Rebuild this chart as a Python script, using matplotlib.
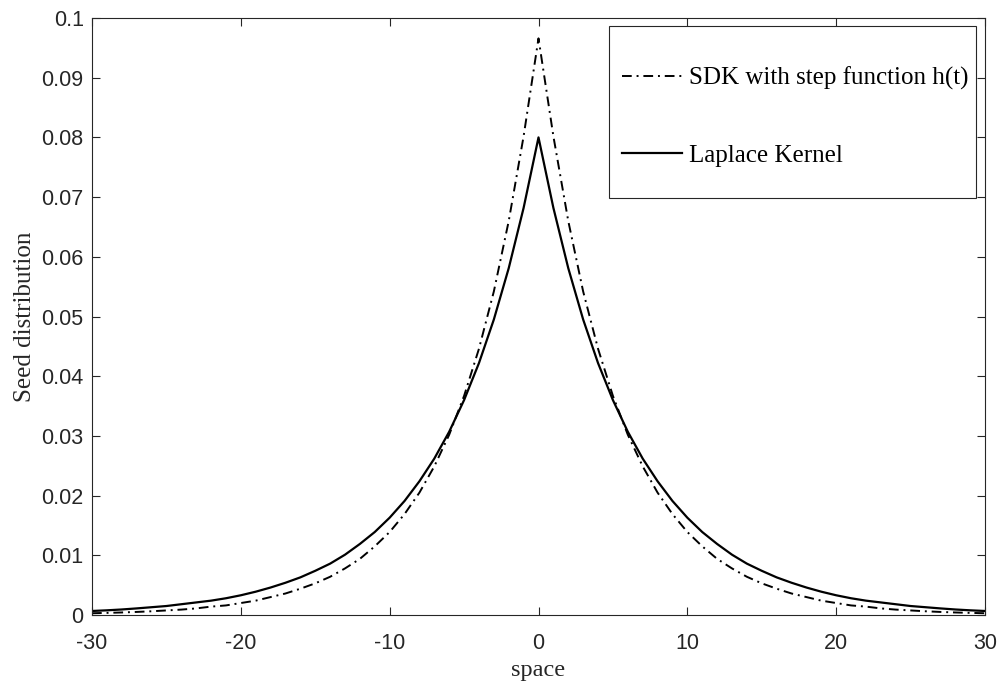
import matplotlib
matplotlib.use("Agg")
import matplotlib.pyplot as plt
from matplotlib.patches import Rectangle
from matplotlib.ticker import FuncFormatter

# distance from the parent plant (right half; the kernels are symmetric)
space_half = [0, 1, 2, 3, 4, 5, 6, 7, 8, 9, 10, 11, 12, 13, 14, 15,
              16, 17, 18, 19, 20, 21, 22, 23, 24, 25, 26, 27, 28, 29, 30]

# SDK with a step-function release rate h(t)
sdk_half = [0.0966, 0.0802, 0.0660, 0.0542, 0.0446, 0.0367, 0.0302, 0.0249,
            0.0205, 0.0169, 0.0139, 0.0115, 0.0094, 0.0078, 0.0064, 0.0053,
            0.0044, 0.0036, 0.0030, 0.0024, 0.0020, 0.0016, 0.0014, 0.0011,
            0.0009, 0.00076, 0.00062, 0.00051, 0.00042, 0.00035, 0.00029]

# Laplace dispersal kernel
laplace_half = [0.0800, 0.0682, 0.0581, 0.0495, 0.0422, 0.0360, 0.0307, 0.0262,
                0.0224, 0.0191, 0.0163, 0.0139, 0.0119, 0.0101, 0.0086, 0.0074,
                0.0063, 0.0054, 0.0046, 0.0039, 0.0033, 0.0028, 0.0024, 0.0021,
                0.0018, 0.0015, 0.0013, 0.0011, 0.00092, 0.00078, 0.00067]

x_ticks = [-30, -20, -10, 0, 10, 20, 30]
y_ticks = [0, 0.01, 0.02, 0.03, 0.04, 0.05, 0.06, 0.07, 0.08, 0.09, 0.1]

# mirror the half profiles onto the full domain
space = [-v for v in space_half[:0:-1]] + space_half
sdk = sdk_half[:0:-1] + sdk_half
laplace = laplace_half[:0:-1] + laplace_half

plt.rcParams["axes.unicode_minus"] = False

axis_gray = "#262626"
serif = ["Liberation Serif", "DejaVu Serif"]
sans = ["Liberation Sans", "DejaVu Sans"]

fig = plt.figure(figsize=(10, 6.83), dpi=100)
ax = fig.add_axes([0.092, 0.0996, 0.893, 0.874])

ax.plot(space, sdk, color="black", lw=1.4, linestyle=(0, (5, 2.5, 1, 2.5)),
        label="SDK with step function h(t)")
ax.plot(space, laplace, color="black", lw=1.6, linestyle="-",
        label="Laplace Kernel")

ax.set_xlim(-30, 30)
ax.set_ylim(0, 0.1)
ax.set_xticks(x_ticks)
ax.set_yticks(y_ticks)
ax.yaxis.set_major_formatter(FuncFormatter(lambda v, p: f"{v:g}"))

ax.tick_params(direction="in", length=5.5, width=0.8, colors=axis_gray,
               top=True, right=True, labelsize=15.5)
for lab in ax.get_xticklabels() + ax.get_yticklabels():
    lab.set_fontfamily(sans)
ax.tick_params(axis="x", pad=13)
ax.tick_params(axis="y", pad=6)
for sp in ax.spines.values():
    sp.set_color(axis_gray)
    sp.set_linewidth(0.8)

ax.set_xlabel("space", fontsize=17.5, family=serif, color=axis_gray, labelpad=4)
ax.set_ylabel("Seed distribution", fontsize=18, family=serif, color=axis_gray,
              labelpad=4)

# legend entries without their own frame; the box is drawn separately
leg = ax.legend(loc="upper left", bbox_to_anchor=(0.593, 0.918),
                prop={"family": serif, "size": 18}, frameon=False,
                handlelength=2.4, handletextpad=0.3, labelspacing=2.15,
                borderpad=0, borderaxespad=0)
ax.add_patch(Rectangle((0.579, 0.698), 0.411, 0.289, transform=ax.transAxes,
                       facecolor="white", edgecolor=axis_gray, lw=0.8,
                       zorder=4.5))
leg.set_zorder(5)

fig.savefig("out.png", dpi=100)
